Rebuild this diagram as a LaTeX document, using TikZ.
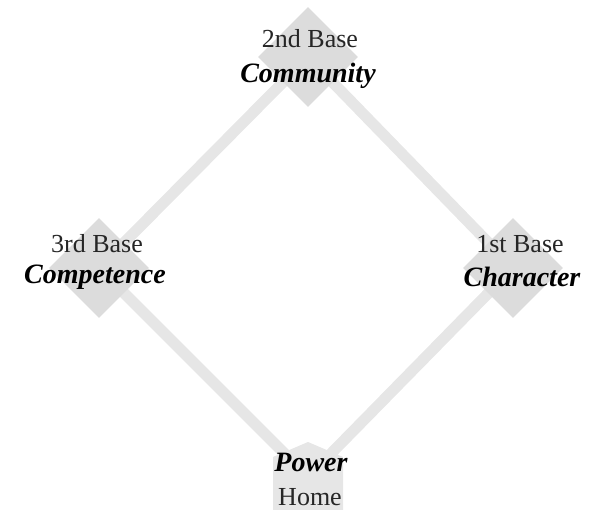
\documentclass[tikz,border=0pt]{standalone}
\usepackage{fontspec}
\setmainfont{Liberation Serif}
\newfontfamily\scriptfnt{Liberation Serif}
\usetikzlibrary{shapes.geometric,backgrounds}
\definecolor{baseline}{HTML}{E6E6E6}
\definecolor{basefill}{HTML}{DCDCDC}
\definecolor{platefill}{HTML}{E6E6E6}
\tikzset{
  basepath/.style={draw=baseline, line width=11pt},
  bag/.style={diamond, fill=basefill, draw=none, minimum width=100pt, minimum height=100pt, inner sep=0pt, aspect=1},
  plainlbl/.style={font=\fontsize{26}{29}\selectfont, text=black!85, inner sep=0pt},
  scriptlbl/.style={font=\scriptfnt\bfseries\itshape\fontsize{28}{31}\selectfont, inner sep=0pt},
}
\begin{document}
\begin{tikzpicture}[x=1pt,y=-1pt]
\useasboundingbox (0,0) rectangle (603,510);
\coordinate (home) at (308,477);
\node[bag] (second) at (308,57) {};
\node[bag] (third) at (99,268) {};
\node[bag] (first) at (513,268) {};
\begin{pgfonlayer}{background}
\draw[basepath] (second.center) -- (first.center);
\draw[basepath] (second.center) -- (third.center);
\draw[basepath] (third.center) -- (home);
\draw[basepath] (first.center) -- (home);
\end{pgfonlayer}
\fill[platefill] (273,510) -- (273,457) -- (308,442) -- (343,457) -- (343,510) -- cycle;
% labels
\node[plainlbl] (t2) at (310,39) {2nd Base};
\node[scriptlbl] (s2) at (308,76) {Community};
\node[plainlbl] (t3) at (97,244) {3rd Base};
\node[scriptlbl] (s3) at (95,277) {Competence};
\node[plainlbl] (t1) at (520,244) {1st Base};
\node[scriptlbl] (s1) at (522,277) {Character};
\node[scriptlbl] (s0) at (311,462) {Power};
\node[plainlbl] (t0) at (310,497) {Home};
\end{tikzpicture}
\end{document}
